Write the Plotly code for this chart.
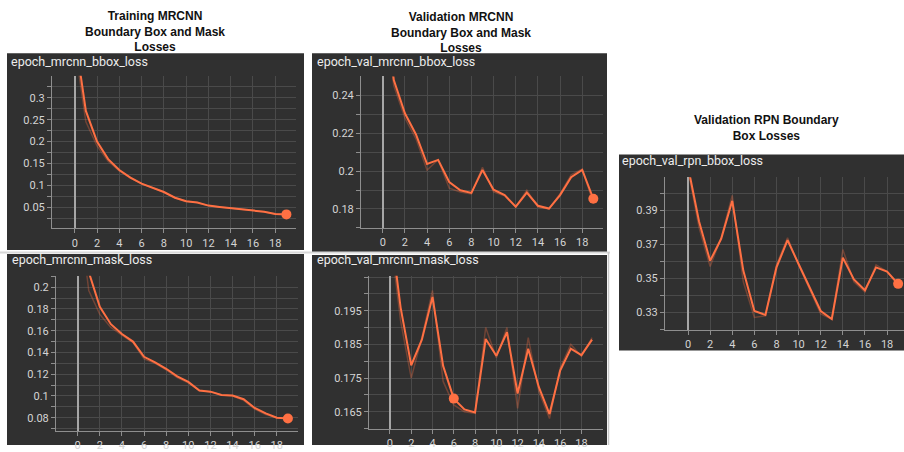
import plotly.graph_objects as go

W, H = 904, 452

epochs = list(range(20))

# Smoothed (bright) and raw (faint) series
train_bbox = [0.444, 0.270, 0.200, 0.160, 0.135, 0.118, 0.104, 0.094, 0.085, 0.072,
              0.064, 0.061, 0.054, 0.051, 0.048, 0.046, 0.043, 0.040, 0.035, 0.034]
train_bbox_raw = [0.420, 0.245, 0.190, 0.155, 0.133, 0.117, 0.104, 0.094, 0.085, 0.072,
                  0.064, 0.061, 0.054, 0.051, 0.048, 0.046, 0.043, 0.040, 0.035, 0.034]

train_mask = [0.300, 0.214, 0.182, 0.166, 0.157, 0.150, 0.136, 0.131, 0.125, 0.118,
              0.113, 0.105, 0.104, 0.101, 0.1005, 0.097, 0.089, 0.084, 0.080, 0.0794]
train_mask_raw = [0.280, 0.197, 0.175, 0.163, 0.156, 0.149, 0.134, 0.130, 0.124, 0.117,
                  0.112, 0.105, 0.104, 0.101, 0.100, 0.096, 0.088, 0.083, 0.080, 0.0794]

val_bbox = [0.300, 0.248, 0.2305, 0.2193, 0.2037, 0.2059, 0.1942, 0.1899, 0.1885, 0.2006,
            0.1902, 0.1873, 0.1812, 0.1886, 0.1817, 0.1802, 0.1873, 0.1968, 0.2006, 0.1854]
val_bbox_raw = [0.290, 0.245, 0.228, 0.217, 0.2005, 0.206, 0.191, 0.189, 0.188, 0.202,
                0.189, 0.187, 0.181, 0.190, 0.181, 0.180, 0.188, 0.198, 0.201, 0.183]

val_mask = [0.221, 0.196, 0.1788, 0.1864, 0.1991, 0.1786, 0.1689, 0.1657, 0.1648, 0.1866,
            0.1816, 0.1886, 0.1704, 0.1837, 0.1723, 0.1643, 0.1772, 0.1837, 0.1818, 0.1864]
val_mask_raw = [0.218, 0.192, 0.175, 0.187, 0.201, 0.174, 0.167, 0.165, 0.1645, 0.190,
                0.181, 0.190, 0.166, 0.187, 0.171, 0.163, 0.178, 0.185, 0.1815, 0.187]

val_rpn = [0.416, 0.3836, 0.3604, 0.3734, 0.3958, 0.3546, 0.3308, 0.3285, 0.3565, 0.3726,
           0.3585, 0.3443, 0.3308, 0.3261, 0.3623, 0.3494, 0.3430, 0.3565, 0.3540, 0.3468]
val_rpn_raw = [0.414, 0.380, 0.357, 0.374, 0.399, 0.348, 0.327, 0.328, 0.358, 0.374,
               0.358, 0.343, 0.329, 0.326, 0.367, 0.348, 0.342, 0.358, 0.354, 0.346]

x_tick_vals = [0, 2, 4, 6, 8, 10, 12, 14, 16, 18]
x_tick_text = ["0", "2", "4", "6", "8", "10", "12", "14", "16", "18"]

p1_ticks = [0.05, 0.1, 0.15, 0.2, 0.25, 0.3]
p1_text = ["0.05", "0.1", "0.15", "0.2", "0.25", "0.3"]
p2_ticks = [0.08, 0.1, 0.12, 0.14, 0.16, 0.18, 0.2]
p2_text = ["0.08", "0.1", "0.12", "0.14", "0.16", "0.18", "0.2"]
p3_ticks = [0.18, 0.2, 0.22, 0.24]
p3_text = ["0.18", "0.2", "0.22", "0.24"]
p4_ticks = [0.165, 0.175, 0.185, 0.195]
p4_text = ["0.165", "0.175", "0.185", "0.195"]
p5_ticks = [0.33, 0.35, 0.37, 0.39]
p5_text = ["0.33", "0.35", "0.37", "0.39"]

panel_names = ["epoch_mrcnn_bbox_loss", "epoch_mrcnn_mask_loss",
               "epoch_val_mrcnn_bbox_loss", "epoch_val_mrcnn_mask_loss",
               "epoch_val_rpn_bbox_loss"]
group_titles = ["Training MRCNN<br>Boundary Box and Mask<br>Losses",
                "Validation MRCNN<br>Boundary Box and Mask<br>Losses",
                "Validation RPN Boundary<br>Box Losses"]

ORANGE = "#ff7043"
BG = "#303030"
GRID = "#4a4a4a"
AXIS = "#8e8e8e"
TEXT = "#d4d4d4"

def px_x(p):
    return p / W

def px_y(p):
    return 1 - p / H

panels = [
    dict(area=(52, 296, 77, 232), xr=[-2.04, 19.86], yr=[0.002, 0.35], tv=p1_ticks, tt=p1_text, minor=0.025,
         y=train_bbox, raw=train_bbox_raw, mk=19, box=(7, 304, 54, 254), lab=(9, 62)),
    dict(area=(56, 297.5, 280, 437.7), xr=[-1.96, 19.87], yr=[0.0679, 0.2106], tv=p2_ticks, tt=p2_text, minor=0.01,
         y=train_mask, raw=train_mask_raw, mk=19, box=(7, 304, 258, 452), lab=(10, 264)),
    dict(area=(361, 603.3, 77.7, 231.7), xr=[-1.96, 19.9], yr=[0.1699, 0.2499], tv=p3_ticks, tt=p3_text, minor=0.01,
         y=val_bbox, raw=val_bbox_raw, mk=19, box=(312, 607, 54, 256), lab=(315, 62)),
    dict(area=(369, 602.7, 280, 436), xr=[-1.97, 20.0], yr=[0.1598, 0.2054], tv=p4_ticks, tt=p4_text, minor=0.005,
         y=val_mask, raw=val_mask_raw, mk=6, box=(312, 607, 259, 452), lab=(315, 264)),
    dict(area=(665, 904, 180, 335), xr=[-2.08, 19.53], yr=[0.3197, 0.4097], tv=p5_ticks, tt=p5_text, minor=0.01,
         y=val_rpn, raw=val_rpn_raw, mk=19, box=(619, 904, 157, 356), lab=(620, 163)),
]

fig = go.Figure()
shapes = []
annotations = []
layout_axes = {}

for i, p in enumerate(panels):
    n = "" if i == 0 else str(i + 1)
    xa, ya = "x" + n, "y" + n
    x0, x1, y0, y1 = p["area"]
    bx0, bx1, by0, by1 = p["box"]
    shapes.append(dict(type="rect", xref="paper", yref="paper", layer="below",
                       x0=px_x(bx0), x1=px_x(bx1), y0=px_y(by1), y1=px_y(by0),
                       fillcolor=BG, line=dict(width=0)))
    annotations.append(dict(text=panel_names[i], xref="paper", yref="paper",
                            x=px_x(p["lab"][0]), y=px_y(p["lab"][1]), xanchor="left", yanchor="middle",
                            showarrow=False, font=dict(family="Roboto", size=12.5, color="#ececec")))
    lo, hi = p["yr"]
    step = p["minor"]
    k = int(lo / step) + 1
    minor_vals = []
    while k * step < hi:
        minor_vals.append(round(k * step, 6))
        k += 1
    fig.add_trace(go.Scatter(x=epochs, y=p["raw"], xaxis=xa, yaxis=ya, mode="lines",
                             line=dict(color=ORANGE, width=1.5), opacity=0.3,
                             hoverinfo="skip", showlegend=False))
    fig.add_trace(go.Scatter(x=epochs, y=p["y"], xaxis=xa, yaxis=ya, mode="lines",
                             line=dict(color=ORANGE, width=2), showlegend=False))
    fig.add_trace(go.Scatter(x=[epochs[p["mk"]]], y=[p["y"][p["mk"]]], xaxis=xa, yaxis=ya,
                             mode="markers", marker=dict(color=ORANGE, size=10),
                             cliponaxis=False, showlegend=False))
    layout_axes["xaxis" + n] = dict(
        domain=[px_x(x0), px_x(x1)], range=p["xr"], anchor=ya,
        tickmode="array", tickvals=x_tick_vals, ticktext=x_tick_text,
        showgrid=True, gridcolor=GRID, gridwidth=1,
        zeroline=True, zerolinecolor="#a6a6a6", zerolinewidth=1.5,
        showline=True, linecolor=AXIS, linewidth=1,
        ticks="outside", ticklen=4, tickcolor=AXIS,
        tickfont=dict(family="Roboto", size=11, color=TEXT),
    )
    layout_axes["yaxis" + n] = dict(
        domain=[px_y(y1), px_y(y0)], range=p["yr"], anchor=xa,
        tickmode="array", tickvals=p["tv"], ticktext=p["tt"],
        showgrid=True, gridcolor=GRID, gridwidth=1, zeroline=False,
        showline=True, linecolor=AXIS, linewidth=1,
        ticks="outside", ticklen=4, tickcolor=AXIS,
        minor=dict(tickmode="array", tickvals=minor_vals, showgrid=True, gridcolor=GRID,
                   ticks="outside", ticklen=4, tickcolor=AXIS),
        tickfont=dict(family="Roboto", size=11, color=TEXT),
    )

for txt, cx, cy in [(group_titles[0], 155, 32), (group_titles[1], 461, 33), (group_titles[2], 766, 130)]:
    annotations.append(dict(text="<b>" + txt + "</b>", xref="paper", yref="paper",
                            x=px_x(cx), y=px_y(cy), xanchor="center", yanchor="middle",
                            showarrow=False, align="center",
                            font=dict(family="Liberation Sans", size=12, color="#111111")))

shapes.append(dict(type="line", xref="paper", yref="paper", x0=0, x1=px_x(610),
                   y0=px_y(256.5), y1=px_y(256.5), line=dict(color="#d8d8d8", width=2), layer="below"))
shapes.append(dict(type="line", xref="paper", yref="paper", x0=px_x(608.5), x1=px_x(608.5),
                   y0=0, y1=px_y(256), line=dict(color="#c8c8c8", width=1.5), layer="below"))

fig.update_layout(
    width=W, height=H, margin=dict(l=0, r=0, t=0, b=0),
    paper_bgcolor="white", plot_bgcolor="rgba(0,0,0,0)",
    shapes=shapes, annotations=annotations, showlegend=False,
    **layout_axes,
)

fig.write_html("out.html", config={"displayModeBar": False},
               post_script="document.body.style.margin='0';document.body.style.overflow='hidden';")
